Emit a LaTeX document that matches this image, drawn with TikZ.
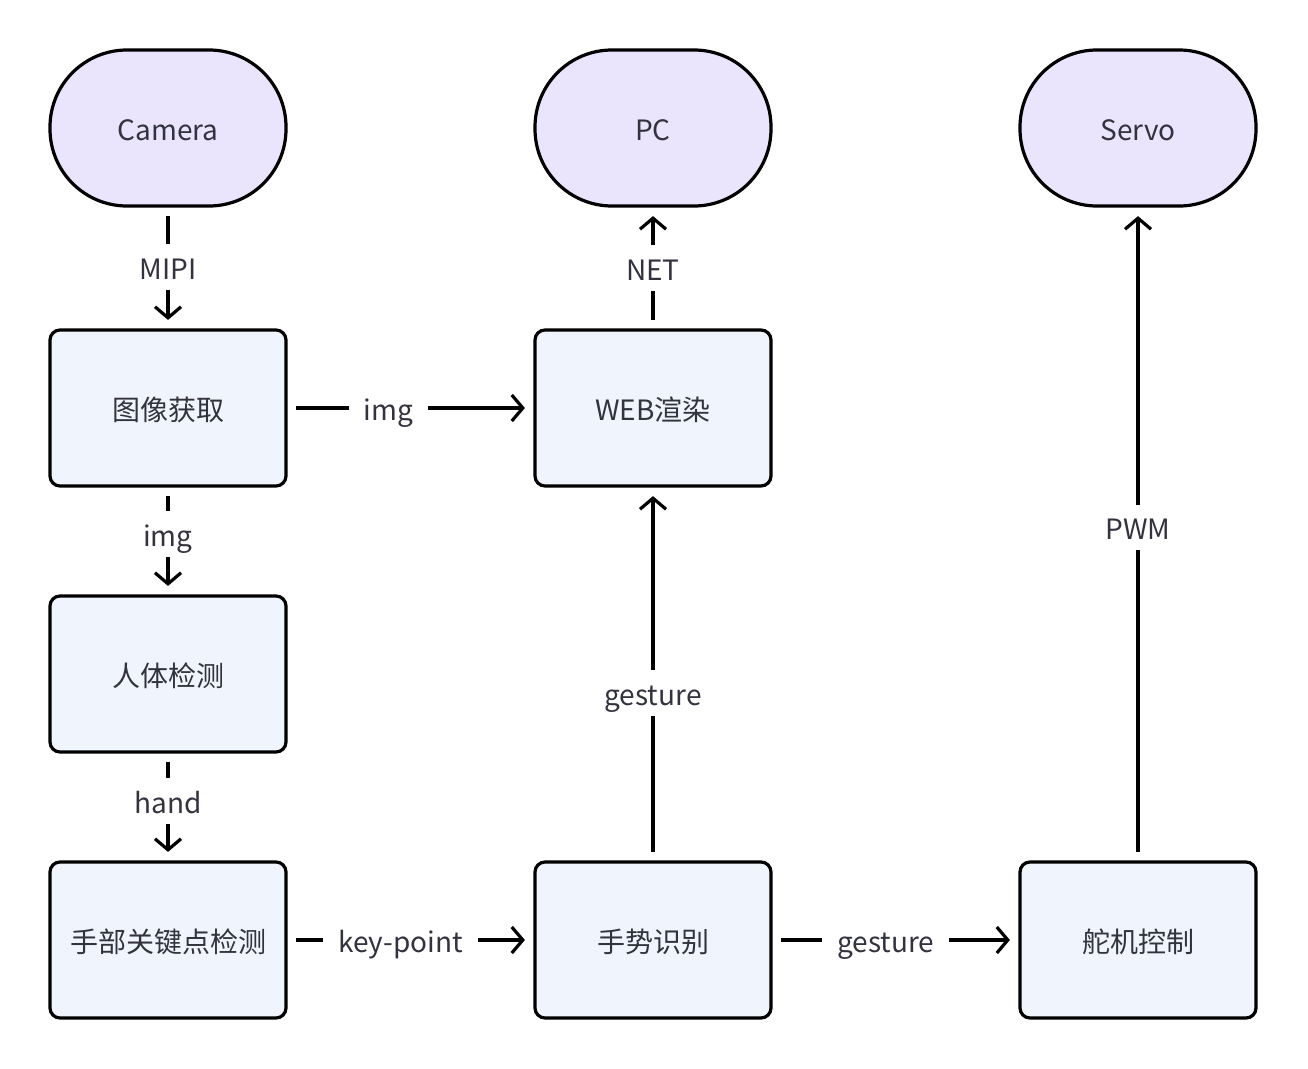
\documentclass[tikz,border=0pt]{standalone}
\usepackage{fontspec}
\setmainfont{Noto Sans CJK SC}
\usetikzlibrary{arrows.meta}
\definecolor{termfill}{RGB}{234,229,253}
\definecolor{procfill}{RGB}{240,244,252}
\definecolor{txt}{RGB}{51,51,64}
\tikzset{
  basefont/.style={text=txt, font=\fontsize{28}{33}\selectfont, text height=26.4pt, text depth=1.4pt},
  term/.style={basefont, draw=black, line width=3.2pt, fill=termfill, rounded corners=77pt,
    minimum width=236pt, minimum height=156pt, inner sep=0pt},
  proc/.style={basefont, draw=black, line width=3.2pt, fill=procfill, rounded corners=10pt,
    minimum width=236pt, minimum height=156pt, inner sep=0pt},
  flow/.style={line width=3.2pt, shorten <=8.5pt, shorten >=8.5pt,
    -{Straight Barb[length=11pt, width=26pt, line width=3.2pt]}},
  lbl/.style={basefont, fill=white, inner xsep=15pt, inner ysep=9pt}
}
\begin{document}
\begin{tikzpicture}[x=1pt, y=-1pt]
\useasboundingbox[fill=white] (0,0) rectangle (1308,1068);
\node[term] (cam) at (168,128) {Camera};
\node[term] (pc) at (653,128) {PC};
\node[term] (servo) at (1138,128) {Servo};
\node[proc] (img) at (168,408) {图像获取};
\node[proc] (web) at (653,408) {WEB渲染};
\node[proc] (body) at (168,674) {人体检测};
\node[proc] (hand) at (168,940) {手部关键点检测};
\node[proc] (gest) at (653,940) {手势识别};
\node[proc] (ctrl) at (1138,940) {舵机控制};

\draw[flow] (cam) -- node[lbl, pos=0.49] {MIPI} (img);
\draw[flow] (img) -- node[lbl, pos=0.41] {img} (web);
\draw[flow] (img) -- node[lbl, pos=0.438] {img} (body);
\draw[flow] (body) -- node[lbl, pos=0.44] {hand} (hand);
\draw[flow] (hand) -- node[lbl, pos=0.46] {key-point} (gest);
\draw[flow] (gest) -- node[lbl, pos=0.46] {gesture} (ctrl);
\draw[flow] (gest) -- node[lbl, pos=0.45] {gesture} (web);
\draw[flow] (web) -- node[lbl, pos=0.50] {NET} (pc);
\draw[flow] (ctrl) -- node[lbl, pos=0.51] {PWM} (servo);
\end{tikzpicture}
\end{document}
